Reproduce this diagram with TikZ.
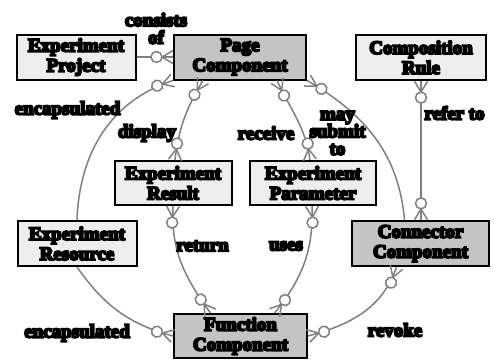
\documentclass[tikz,border=0pt]{standalone}
\usepackage{fontspec}
\setmainfont{Liberation Serif}[BoldFeatures={FakeBold=10}]
\usetikzlibrary{decorations.markings}
\definecolor{linegray}{HTML}{808080}
\definecolor{boxlight}{HTML}{EDEDED}
\definecolor{boxdark}{HTML}{C4C4C4}
\newcommand\txtfont{\fontsize{19}{20}\selectfont\bfseries}
\newcommand\lblfont{\fontsize{19}{17.5}\selectfont\bfseries}
\newcommand\cfstartdraw{\draw[cfline] (11,0) -- (0,6.5) (11,0) -- (0,-6.5); \draw[cfline,fill=white] (16.5,0) circle[radius=5.5];}
\newcommand\cfenddraw{\draw[cfline] (-11,0) -- (0,6.5) (-11,0) -- (0,-6.5); \draw[cfline,fill=white] (-16.5,0) circle[radius=5.5];}
\tikzset{
  cfline/.style={draw=linegray, line width=1.5pt},
  conn/.style={cfline},
  cfstart/.style={postaction={decorate,decoration={markings,mark=at position 0.001 with {\cfstartdraw}}}},
  cfend/.style={postaction={decorate,decoration={markings,mark=at position 0.999 with {\cfenddraw}}}},
  box/.style={draw=black,line width=2pt,minimum height=45pt,inner sep=0pt,align=center,font=\txtfont},
  light/.style={box,fill=boxlight},
  dark/.style={box,fill=boxdark},
  lbl/.style={inner sep=0pt,align=center,font=\lblfont},
}
\begin{document}
\begin{tikzpicture}[x=1pt,y=1pt]
\useasboundingbox (0,0) rectangle (494,360);
\fill[white] (0,0) rectangle (494,360);
% nodes
\node[light,minimum width=119pt] (EP) at (76,303) {Experiment\\Project};
\node[dark,minimum width=132pt] (PC) at (240,303) {Page\\Component};
\node[light,minimum width=130pt] (CR) at (421,302.5) {Composition\\Rule};
\node[light,minimum width=117pt,minimum height=44pt] (ER) at (173,177) {Experiment\\Result};
\node[light,minimum width=126pt,minimum height=44pt] (EPa) at (313,177) {Experiment\\Parameter};
\node[light,minimum width=119pt] (ERs) at (77,116.5) {Experiment\\Resource};
\node[dark,minimum width=137pt] (CC) at (420.5,116.5) {Connector\\Component};
\node[dark,minimum width=133pt,minimum height=44pt] (FC) at (240.5,24) {Function\\Component};
% connectors
\draw[conn,cfend] (EP) -- (PC);
\draw[conn,cfstart] (PC.south west) to[out=198,in=88] (ERs.north);
\draw[conn,cfstart,cfend] ([xshift=-37pt]PC.south) to[out=239,in=83] ([xshift=2pt]ER.north);
\draw[conn,cfstart,cfend] ([xshift=37pt]PC.south) to[out=295,in=98] ([xshift=-3pt]EPa.north);
\draw[conn,cfstart] (PC.south east) to[out=-30,in=95] ([xshift=-16pt]CC.north);
\draw[conn,cfstart,cfend] (CR.south) -- (CR.south |- CC.north);
\draw[conn,cfstart,cfend] (ER.south) to[out=267,in=126] ([xshift=-30pt]FC.north);
\draw[conn,cfstart,cfend] ([xshift=-1pt]EPa.south) to[out=272,in=51] ([xshift=34pt]FC.north);
\draw[conn,cfend] (ERs.south) to[out=-55,in=165] (FC.west);
\draw[conn,cfstart,cfend] (FC.east) to[out=15,in=251] ([xshift=-24pt]CC.south);
% labels
\node[lbl] (l1) at (156,331.5) {consists\\of};
\node[lbl] (l2) at (67.5,250) {encapsulated};
\node[lbl] (l3) at (147,227) {display};
\node[lbl] (l4) at (266,227) {receive};
\node[lbl] (l5) at (337.5,227) {may\\submit\\to};
\node[lbl] (l6) at (454.5,247) {refer to};
\node[lbl] (l7) at (202.5,114) {return};
\node[lbl] (l8) at (286,114) {uses};
\node[lbl] (l9) at (77,27) {encapsulated};
\node[lbl] (l10) at (395,30) {revoke};
\end{tikzpicture}
\end{document}
